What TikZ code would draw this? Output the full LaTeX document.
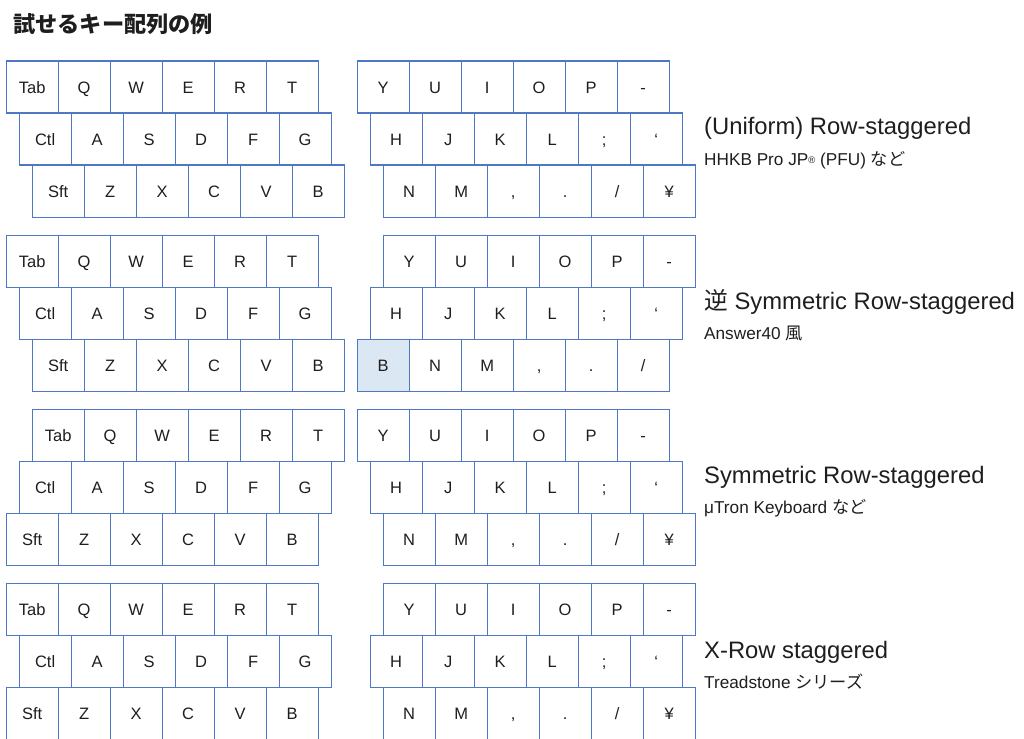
\documentclass[tikz,border=0pt]{standalone}
\usepackage{fontspec}
\setmainfont{Liberation Sans}
\newfontfamily\jpfont{Noto Sans CJK JP}
\definecolor{keyblue}{HTML}{4F78C4}
\definecolor{hl}{HTML}{DCE7F4}
\definecolor{ink}{HTML}{1E1E1E}
\tikzset{
  key/.style={draw=keyblue, line width=1.25pt, minimum width=52pt, minimum height=52pt,
    inner sep=0pt, anchor=north west, text=ink, font=\fontsize{16.5}{18}\selectfont,
    text height=11.8pt, text depth=0pt},
  hlkey/.style={fill=hl},
  lbl/.style={anchor=base west, inner sep=0pt, text=ink, font=\fontsize{23.8}{26}\selectfont},
  sublbl/.style={anchor=base west, inner sep=0pt, text=ink, font=\fontsize{17.2}{19}\selectfont},
  ttl/.style={anchor=west, inner sep=0pt, text=ink, font=\jpfont\bfseries\fontsize{22.2}{24}\selectfont}
}
\newcommand\keyrow[4]{\foreach \lab [count=\i] in {#4}{\node[key] (#1-\i) at ({#2+(\i-1)*52},#3) {\lab};}}
\begin{document}
\begin{tikzpicture}[x=1pt,y=-1pt]
\useasboundingbox (0,0) rectangle (1024,738);
\node[ttl] (title) at (13,24) {試せるキー配列の例};
% Block 1
\keyrow{aL1}{5.5}{60.5}{Tab,Q,W,E,R,T}
\keyrow{aL2}{18.5}{112.5}{Ctl,A,S,D,F,G}
\keyrow{aL3}{31.5}{164.5}{Sft,Z,X,C,V,B}
\keyrow{aR1}{356.5}{60.5}{Y,U,I,O,P,-}
\keyrow{aR2}{369.5}{112.5}{H,J,K,L,;,‘}
\keyrow{aR3}{382.5}{164.5}{N,M,{,},.,/,¥}
\node[lbl] (t1) at (704,135) {(Uniform) Row-staggered};
\node[sublbl] (s1) at (704,165) {HHKB Pro JP{\fontsize{9.5}{9.5}\selectfont\raisebox{1.5pt}{®}} (PFU) {\jpfont など}};
% Block 2
\keyrow{bL1}{5.5}{234.5}{Tab,Q,W,E,R,T}
\keyrow{bL2}{18.5}{286.5}{Ctl,A,S,D,F,G}
\keyrow{bL3}{31.5}{338.5}{Sft,Z,X,C,V,B}
\keyrow{bR1}{382.5}{234.5}{Y,U,I,O,P,-}
\keyrow{bR2}{369.5}{286.5}{H,J,K,L,;,‘}
\node[key, hlkey] (bR3-0) at (356.5,338.5) {B};
\keyrow{bR3}{408.5}{338.5}{N,M,{,},.,/}
\node[lbl] (t2) at (704,309) {{\jpfont 逆} Symmetric Row-staggered};
\node[sublbl] (s2) at (704,339) {Answer40 {\jpfont 風}};
% Block 3
\keyrow{cL1}{31.5}{408.5}{Tab,Q,W,E,R,T}
\keyrow{cL2}{18.5}{460.5}{Ctl,A,S,D,F,G}
\keyrow{cL3}{5.5}{512.5}{Sft,Z,X,C,V,B}
\keyrow{cR1}{356.5}{408.5}{Y,U,I,O,P,-}
\keyrow{cR2}{369.5}{460.5}{H,J,K,L,;,‘}
\keyrow{cR3}{382.5}{512.5}{N,M,{,},.,/,¥}
\node[lbl] (t3) at (704,483) {Symmetric Row-staggered};
\node[sublbl] (s3) at (704,513) {μTron Keyboard {\jpfont など}};
% Block 4
\keyrow{dL1}{5.5}{582.5}{Tab,Q,W,E,R,T}
\keyrow{dL2}{18.5}{634.5}{Ctl,A,S,D,F,G}
\keyrow{dL3}{5.5}{686.5}{Sft,Z,X,C,V,B}
\keyrow{dR1}{382.5}{582.5}{Y,U,I,O,P,-}
\keyrow{dR2}{369.5}{634.5}{H,J,K,L,;,‘}
\keyrow{dR3}{382.5}{686.5}{N,M,{,},.,/,¥}
\node[lbl] (t4) at (704,658) {X-Row staggered};
\node[sublbl] (s4) at (704,688) {Treadstone {\jpfont シリーズ}};
\end{tikzpicture}
\end{document}
